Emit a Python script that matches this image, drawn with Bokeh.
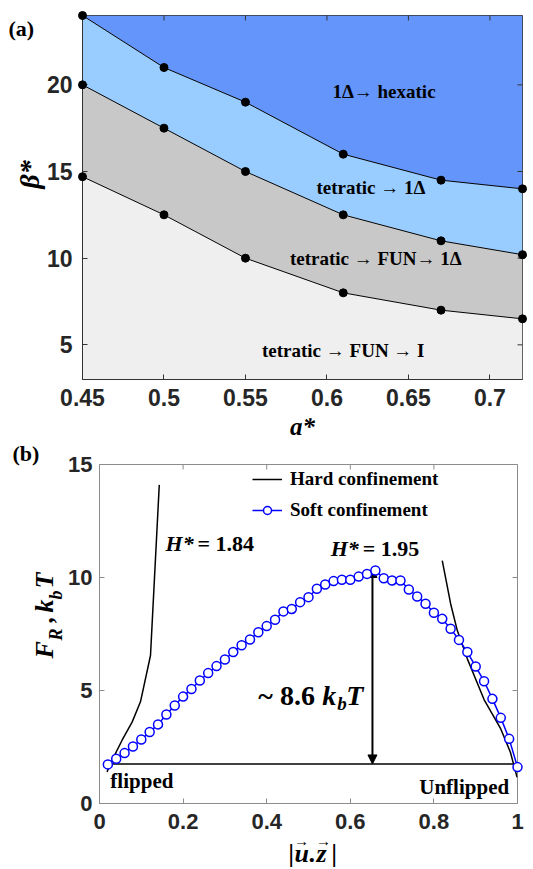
from math import pi
from bokeh.plotting import figure
from bokeh.models import (FixedTicker, Range1d, Arrow, NormalHead, Legend, LegendItem)
from bokeh.core.properties import value
from bokeh.embed import file_html
from bokeh.resources import INLINE

# ---------------- Panel (a) data ----------------
a_star = [0.45, 0.5, 0.55, 0.61, 0.67, 0.72]
beta_hexatic = [24, 21, 19, 16, 14.5, 14]
beta_onedelta = [20, 17.5, 15, 12.5, 11, 10.2]
beta_fun = [14.7, 12.5, 10, 8, 7, 6.5]
a_xticks = [0.45, 0.5, 0.55, 0.6, 0.65, 0.7]
a_xticklabels = ["0.45", "0.5", "0.55", "0.6", "0.65", "0.7"]
a_yticks = [5, 10, 15, 20]
a_yticklabels = ["5", "10", "15", "20"]
a_xlim = (0.45, 0.72)
a_ylim = (3, 24)
region_names = ["1\u0394\u2192 hexatic", "tetratic \u2192 1\u0394",
                "tetratic \u2192 FUN\u2192 1\u0394", "tetratic \u2192 FUN \u2192 I"]
region_fill = ["#6495FA", "#99CCFF", "#C8C8C8", "#EFEFEF"]

# ---------------- Panel (b) data ----------------
u_soft = [0.02, 0.04, 0.06, 0.08, 0.10, 0.12, 0.14, 0.16, 0.18, 0.20,
          0.22, 0.24, 0.26, 0.28, 0.30, 0.32, 0.34, 0.36, 0.38, 0.40,
          0.42, 0.44, 0.46, 0.48, 0.50, 0.52, 0.54, 0.56, 0.58, 0.60,
          0.62, 0.64, 0.66, 0.68, 0.70, 0.72, 0.74, 0.76, 0.78, 0.80,
          0.82, 0.84, 0.86, 0.88, 0.90, 0.92, 0.94, 0.96, 0.98, 1.00]
F_soft = [1.73, 1.98, 2.23, 2.52, 2.83, 3.16, 3.50, 3.94, 4.34, 4.73,
          5.07, 5.44, 5.77, 6.08, 6.37, 6.70, 7.00, 7.26, 7.58, 7.85,
          8.13, 8.50, 8.61, 8.91, 9.13, 9.50, 9.69, 9.84, 9.90, 9.90,
          10.04, 10.16, 10.31, 9.97, 9.87, 9.87, 9.47, 9.16, 8.84, 8.44,
          8.17, 7.73, 7.24, 6.70, 6.06, 5.41, 4.63, 3.79, 2.86, 1.61]
u_hard_left = [0.018, 0.035, 0.054, 0.078, 0.098, 0.122, 0.143]
F_hard_left = [1.4, 2.1, 2.8, 3.6, 4.5, 6.55, 14.1]
u_hard_right = [0.82, 0.84, 0.856, 0.88, 0.92, 0.96, 0.983, 0.999]
F_hard_right = [10.75, 8.84, 7.65, 6.4, 4.6, 3.3, 2.27, 1.16]
base_u = [0.03, 0.99]
base_F = [1.75, 1.75]
barrier_u = 0.653
barrier_F = (1.75, 10.4)
b_xticks = [0, 0.2, 0.4, 0.6, 0.8, 1]
b_xticklabels = ["0", "0.2", "0.4", "0.6", "0.8", "1"]
b_yticks = [0, 5, 10, 15]
b_yticklabels = ["0", "5", "10", "15"]
b_xlim = (0, 1)
b_ylim = (0, 15)

SERIF = "Liberation Serif"
SANS = "Liberation Sans"


def style(p, xt, xl, yt, yl, xlim, ylim, col, fs, xstand, ystand):
    xa, ya = p.below[0], p.left[0]
    for ax in (xa, ya):
        ax.major_tick_in = 5
        ax.major_tick_out = 0
        ax.minor_tick_line_color = None
        ax.axis_line_color = col
        ax.major_tick_line_color = col
        ax.major_label_text_font = SANS
        ax.major_label_text_font_style = "bold"
        ax.major_label_text_font_size = fs
        ax.major_label_text_color = "#262626"
    xa.ticker = FixedTicker(ticks=xt)
    xa.major_label_overrides = {t: s for t, s in zip(xt, xl)}
    ya.ticker = FixedTicker(ticks=yt)
    ya.major_label_overrides = {t: s for t, s in zip(yt, yl)}
    xa.major_label_standoff = xstand
    ya.major_label_standoff = ystand
    # inward ticks on the top and right edges of the box (half of each dash is clipped)
    p.scatter(x=xt, y=[ylim[1]] * len(xt), marker="dash", angle=pi / 2, size=10,
              line_color=col, line_width=1)
    p.scatter(x=[xlim[1]] * len(yt), y=yt, marker="dash", size=10, line_color=col, line_width=1)
    p.outline_line_color = col
    p.xgrid.visible = False
    p.ygrid.visible = False


def out_text(p, x0, y0, dx, dy, text, size, fstyle, align="left", angle=0.0, font=SERIF):
    p.text(x=[x0], y=[y0], text=[text], x_offset=dx, y_offset=dy, angle=angle,
           text_font=value(font), text_font_style=fstyle, text_font_size=size,
           text_align=align, text_baseline="middle", text_color="black", level="overlay")


# ---------------- Figure (a) ----------------
pa = figure(width=533, height=442, output_backend="svg", toolbar_location=None,
            x_range=Range1d(*a_xlim), y_range=Range1d(*a_ylim),
            min_border_left=82, min_border_right=11, min_border_top=15, min_border_bottom=63)

y_top = [a_ylim[1]] * len(a_star)
y_bot = [a_ylim[0]] * len(a_star)
pa.varea(x=a_star, y1=beta_hexatic, y2=y_top, fill_color=region_fill[0])
pa.varea(x=a_star, y1=beta_onedelta, y2=beta_hexatic, fill_color=region_fill[1])
pa.varea(x=a_star, y1=beta_fun, y2=beta_onedelta, fill_color=region_fill[2])
pa.varea(x=a_star, y1=y_bot, y2=beta_fun, fill_color=region_fill[3])
style(pa, a_xticks, a_xticklabels, a_yticks, a_yticklabels, a_xlim, a_ylim,
      "#333333", "23px", 9, 10)
for b in (beta_hexatic, beta_onedelta, beta_fun):
    pa.line(a_star, b, color="black", line_width=1)
    pa.scatter(a_star, b, marker="circle", size=8, color="black", level="overlay")

pa.text(x=[0.635, 0.627, 0.63, 0.61], y=[19.6, 14.1, 10.0, 4.65], text=region_names,
        text_font=value(SERIF), text_font_style="bold", text_font_size="19px",
        text_align="center", text_baseline="middle", text_color="black")

ax0, ay0 = a_xlim[0], a_ylim[0]
out_text(pa, ax0, ay0, -74, -351, "(a)", "22px", "bold")
out_text(pa, ax0, ay0, -53, -205, "\u03b2*", "28px", "bold italic", align="center",
         angle=pi / 2)
out_text(pa, ax0, ay0, 220, 47, "a*", "25px", "bold italic", align="center")

# ---------------- Figure (b) ----------------
pb = figure(width=533, height=427, output_backend="svg", toolbar_location=None,
            x_range=Range1d(*b_xlim), y_range=Range1d(*b_ylim),
            min_border_left=99, min_border_right=16, min_border_top=22, min_border_bottom=66)
style(pb, b_xticks, b_xticklabels, b_yticks, b_yticklabels, b_xlim, b_ylim,
      "#8C8C8C", "22px", 10, 7)

hard_l = pb.line(u_hard_left, F_hard_left, color="black", line_width=1.5)
pb.line(u_hard_right, F_hard_right, color="black", line_width=1.5)
pb.line(base_u, base_F, color="black", line_width=1.5)
soft_line = pb.line(u_soft, F_soft, color="#0000FF", line_width=1.5)
soft_pts = pb.scatter(u_soft, F_soft, marker="circle", size=9, line_color="#0000FF",
                      fill_color="white", line_width=1.5, level="overlay")
pb.add_layout(Arrow(x_start=barrier_u, y_start=barrier_F[0], x_end=barrier_u, y_end=barrier_F[1],
                    line_width=2, line_color="black",
                    start=NormalHead(size=9, fill_color="black", line_color="black"),
                    end=NormalHead(size=9, fill_color="black", line_color="black")))

legend = Legend(items=[LegendItem(label="Hard confinement", renderers=[hard_l]),
                       LegendItem(label="Soft confinement", renderers=[soft_line, soft_pts])],
                location=(153, 282), border_line_alpha=0, background_fill_alpha=0,
                label_text_font=SERIF, label_text_font_style="bold", label_text_font_size="19px",
                label_text_color="black",
                glyph_width=30, glyph_height=20, label_height=20, spacing=9, padding=0,
                margin=0, label_standoff=8)
pb.add_layout(legend)

txt = dict(text_font=value(SERIF), text_color="black", text_baseline="middle")
pb.text(x=[0.158, 0.553], y=[11.5, 11.28], text=["H*", "H*"], text_font_style="bold italic",
        text_font_size="22px", text_align="left", **txt)
pb.text(x=[0.158, 0.553], y=[11.5, 11.28], text=["= 1.84", "= 1.95"], x_offset=32,
        text_font_style="bold", text_font_size="22px", text_align="left", **txt)
pb.text(x=[0.38], y=[4.76], text=["~ 8.6"], text_font_style="bold", text_font_size="28px",
        text_align="left", **txt)
pb.text(x=[0.38], y=[4.76], text=["k"], x_offset=64, text_font_style="bold italic",
        text_font_size="28px", text_align="left", **txt)
pb.text(x=[0.38], y=[4.76], text=["b"], x_offset=79, y_offset=8, text_font_style="bold italic",
        text_font_size="19px", text_align="left", **txt)
pb.text(x=[0.38], y=[4.76], text=["T"], x_offset=88, text_font_style="bold italic",
        text_font_size="28px", text_align="left", **txt)
pb.text(x=[0.026], y=[1.0], text=["flipped"], text_font_style="bold", text_font_size="21px",
        text_align="left", **txt)
pb.text(x=[0.98], y=[0.75], text=["Unflipped"], text_font_style="bold", text_font_size="21px",
        text_align="right", **txt)

bx0, by0 = b_xlim[0], b_ylim[0]
out_text(pb, bx0, by0, -87, -350, "(b)", "22px", "bold")
# rotated y label: F_R , k_b T
for s, dx, dy, fs in [("F", -55, -145, "26px"), ("R", -44, -163, "18px"),
                      (",", -55, -181, "26px"), ("k", -55, -191, "26px"),
                      ("b", -44, -204, "18px"), ("T", -55, -215, "26px")]:
    out_text(pb, bx0, by0, dx, dy, s, fs, "bold italic", angle=pi / 2)
# x label: |u.z| with vector arrows
for s, dx in [("|", 189), ("u", 195), (".", 210), ("z", 217), ("|", 232)]:
    out_text(pb, bx0, by0, dx, 50, s, "26px", "bold italic")
for dx in (202, 224):
    out_text(pb, bx0, by0, dx, 37, "\u2192", "15px", "bold", align="center")

open("out.html", "w").write(file_html([pa, pb], INLINE))
